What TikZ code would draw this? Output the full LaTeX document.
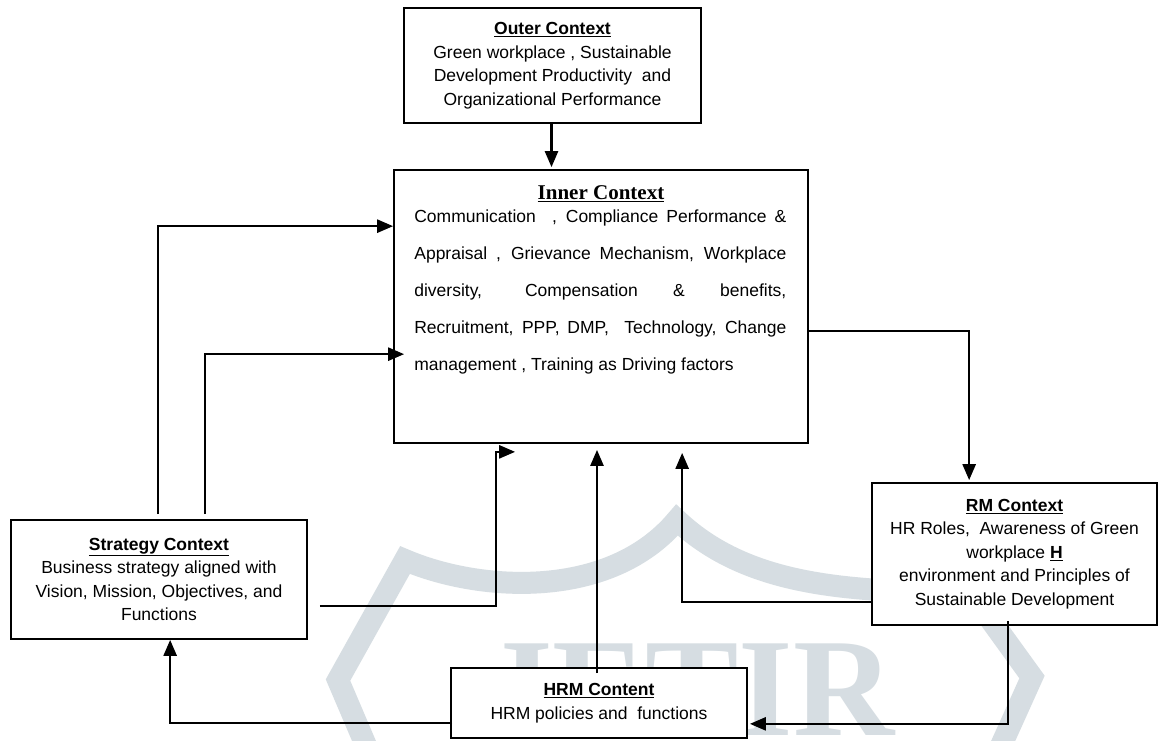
\documentclass[tikz,border=0pt]{standalone}
\usepackage{fontspec}
\setmainfont{Liberation Sans}
\newfontfamily\tnr{Liberation Serif}
\usetikzlibrary{arrows.meta,calc}
\definecolor{wm}{RGB}{214,221,226}
\begin{document}
\begin{tikzpicture}[x=1pt,y=-1pt,
  box/.style={draw, line width=1.7pt, fill=white, inner sep=0pt},
  txt/.style={align=center, font=\fontsize{17.5}{23.5}\selectfont},
  conn/.style={line width=2.5pt},
  arr/.style={conn, -{Triangle[length=16pt,width=13pt]}},
  wmline/.style={draw=wm, line width=22pt, line join=miter}]
\clip (0,0) rectangle (1159,740);
\fill[white] (0,0) rectangle (1159,740);
% watermark
\path[wmline] (367,748) -- (338,680) -- (405,560)
  .. controls (480,592) and (610,600) .. (677,520)
  .. controls (730,570) and (800,585) .. (880,590)
  -- (985,612) -- (1032,677) -- (1000,748);
\node[text=wm, font=\tnr\bfseries\fontsize{140}{140}\selectfont, anchor=base west, inner sep=0pt] (wmtext) at (482,735) {JETIR};
% boxes
\node[box, txt, minimum width=297pt, minimum height=115pt] (outer) at (552.5,65.5)
  {\underline{\textbf{Outer Context}}\\Green workplace , Sustainable\\Development Productivity~ and\\Organizational Performance};
\node[box, minimum width=414pt, minimum height=273pt] (inner) at (601,306.5) {};
\node[font=\tnr\bfseries\fontsize{21}{21}\selectfont, inner sep=0pt, anchor=base] (innertitle) at ($(inner.north)+(0,30)$) {\underline{Inner Context}};
\node[anchor=north west, inner sep=0pt, text width=372pt, align=justify,
  font=\fontsize{17.5}{37}\selectfont] (innertext) at ($(inner.north west)+(21,40)$)
  {Communication~ , Compliance Performance \&\linebreak
   Appraisal , Grievance Mechanism, Workplace\linebreak
   diversity, Compensation \& benefits,\linebreak
   Recruitment, PPP, DMP,~ Technology, Change\linebreak
   management , Training as Driving factors};
\node[box, txt, minimum width=296pt, minimum height=119pt] (strategy) at (159,579.5)
  {\underline{\textbf{Strategy Context}}\\Business strategy aligned with\\Vision, Mission, Objectives, and\\Functions};
\node[box, txt, minimum width=285pt, minimum height=142pt] (rm) at (1014.5,554)
  {\underline{\textbf{RM Context}}\\HR Roles,~ Awareness of Green\\workplace \underline{\textbf{H}}\\environment and Principles of\\Sustainable Development};
\node[box, txt, minimum width=296pt, minimum height=70pt] (hrm) at (599,703)
  {\underline{\textbf{HRM Content}}\\HRM policies and~ functions};
% connectors
\draw[arr] ($(outer.south)+(-1,0)$) -- ($(outer.south |- inner.north)+(-1,-2)$);
\draw[arr] ($(strategy.north)+(-1,-5)$) |- ($(inner.north west)+(0,57)$);
\draw[arr] ($(strategy.north)+(46,-5)$) |- ($(inner.north west)+(11,185)$);
\draw[arr] ($(strategy.north east)+(12,87)$) -| ($(inner.south west)+(103,8)$) -- ($(inner.south west)+(122,8)$);
\draw[arr] ($(hrm.north)+(-2,6)$) -- ($(hrm.north |- inner.south)+(-2,6)$);
\draw[arr] ($(rm.north west)+(0,120)$) -| ($(inner.south west)+(289,9)$);
\draw[arr] ($(inner.north east)+(0,162)$) -| ($(rm.north west)+(98,-2)$);
\draw[arr] ($(rm.south west)+(137,-5)$) |- ($(hrm.south east)+(2,-15)$);
\draw[arr] ($(hrm.south west)+(2,-16)$) -| ($(strategy.south west)+(160,0)$);
\end{tikzpicture}
\end{document}
